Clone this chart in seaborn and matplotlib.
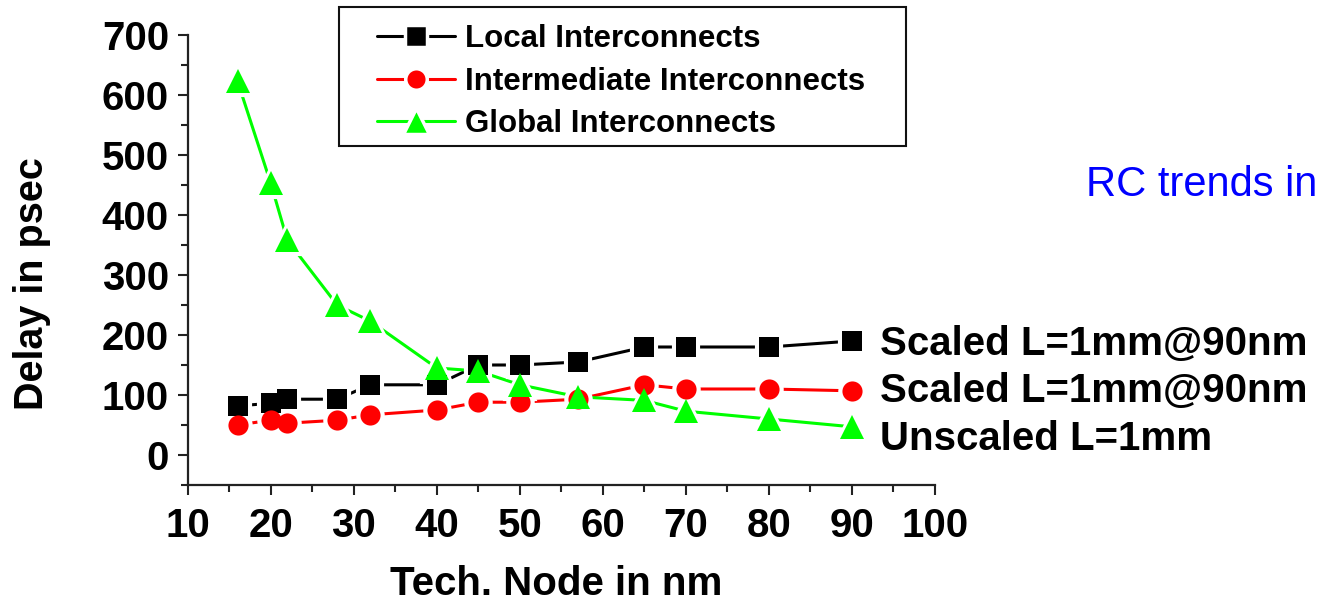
import matplotlib
matplotlib.use("Agg")
import matplotlib.pyplot as plt
from matplotlib.patches import Rectangle
from matplotlib.lines import Line2D
from matplotlib.ticker import MultipleLocator
import seaborn as sns
import pandas as pd

# ---- data ----
tech_node = [16, 20, 22, 28, 32, 40, 45, 50, 57, 65, 70, 80, 90]
local_delay = [82, 86, 93, 93, 117, 117, 150, 150, 155, 180, 180, 180, 190]
intermediate_delay = [50, 58, 53, 58, 67, 75, 88, 88, 93, 117, 110, 110, 107]
global_delay = [623, 453, 358, 250, 223, 145, 140, 117, 97, 91, 73, 60, 47]
series_names = ["Local Interconnects", "Intermediate Interconnects", "Global Interconnects"]
right_labels = ["Scaled L=1mm@90nm", "Scaled L=1mm@90nm", "Unscaled L=1mm"]
side_title = "RC trends in"
x_label = "Tech. Node in nm"
y_label = "Delay in psec"

colors = ["#000000", "#ff0000", "#00ff00"]
markers = ["s", "o", "^"]
msizes = [17.5, 17.5, 20.5]

sns.set_style("ticks")
plt.rcParams["font.family"] = ["Liberation Sans", "DejaVu Sans"]
plt.rcParams["font.weight"] = "bold"
plt.rcParams["text.color"] = "black"
plt.rcParams["axes.labelcolor"] = "black"
plt.rcParams["xtick.color"] = "black"
plt.rcParams["ytick.color"] = "black"

W, H = 1319, 602
fig = plt.figure(figsize=(W / 100, H / 100), dpi=100)
ax = fig.add_axes([187.7 / W, 1 - 485 / H, (935 - 187.7) / W, (485 - 35) / H])

df = pd.DataFrame({"node": tech_node, series_names[0]: local_delay,
                   series_names[1]: intermediate_delay, series_names[2]: global_delay})

# lines
for name, c in zip(series_names, colors):
    sns.lineplot(data=df, x="node", y=name, color=c, linewidth=2.2, ax=ax,
                 legend=False, zorder=2)
# white halos (gap around markers)
for name, m, ms in zip(series_names, markers, msizes):
    sns.lineplot(data=df, x="node", y=name, color="white", linestyle="none",
                 marker=m, markersize=ms, markeredgecolor="white",
                 markeredgewidth=3.0, ax=ax, legend=False, zorder=3)
# colored markers
for name, c, m, ms in zip(series_names, colors, markers, msizes):
    sns.lineplot(data=df, x="node", y=name, color=c, linestyle="none",
                 marker=m, markersize=ms - 3.0, markeredgecolor=c,
                 markeredgewidth=0, ax=ax, legend=False, zorder=4)

ax.set_xlim(10, 100)
ax.set_ylim(-50, 700)
ax.xaxis.set_major_locator(MultipleLocator(10))
ax.xaxis.set_minor_locator(MultipleLocator(5))
ax.yaxis.set_major_locator(MultipleLocator(100))
ax.yaxis.set_minor_locator(MultipleLocator(50))
ax.set_yticks([0, 100, 200, 300, 400, 500, 600, 700])
ax.set_xlabel("")
ax.set_ylabel("")
for s in ["top", "right"]:
    ax.spines[s].set_visible(False)
for s in ["left", "bottom"]:
    ax.spines[s].set_linewidth(1.6)
    ax.spines[s].set_color("#222222")
ax.tick_params(which="major", length=7.5, width=1.5, color="#222222",
               labelsize=29, labelcolor="black", direction="out")
ax.tick_params(which="minor", length=5, width=1.5, color="#222222", direction="out")
ax.tick_params(axis="x", which="major", pad=8)
ax.tick_params(axis="y", which="major", pad=6)
for lab in ax.get_xticklabels() + ax.get_yticklabels():
    lab.set_fontweight("bold")

# axis labels
fig.text(390 / W, 1 - 595 / H, x_label, fontsize=29, fontweight="bold",
         color="black", ha="left", va="baseline")
fig.text(43 / W, 1 - 284 / H, y_label, fontsize=28.5, fontweight="bold",
         color="black", rotation=90, rotation_mode="anchor", ha="center",
         va="baseline")

# legend
handles = [Line2D([], [], color=c, lw=2.2, marker=m, markersize=ms - 2,
                  markerfacecolor=c, markeredgecolor="white", markeredgewidth=2.5)
           for c, m, ms in zip(colors, markers, msizes)]
leg = fig.legend(handles, series_names, loc="upper left",
                 bbox_to_anchor=(377 / W, 1 - 24 / H), frameon=False,
                 fontsize=22.5, handlelength=2.5, handletextpad=0.32,
                 labelspacing=0.4, borderpad=0, borderaxespad=0, numpoints=1)
for t in leg.get_texts():
    t.set_fontweight("bold")
    t.set_color("black")
fig.add_artist(Rectangle((339 / W, 1 - 146 / H), (906 - 339) / W, (146 - 7) / H,
                         transform=fig.transFigure, fill=False, lw=1.5,
                         ec="#111111"))

# right-side annotations
for lab, yb in zip(right_labels, [355, 402, 450]):
    fig.text(880 / W, 1 - yb / H, lab, fontsize=29, fontweight="bold",
             color="black", ha="left", va="baseline")
fig.text(1086 / W, 1 - 196 / H, side_title, fontsize=30, fontweight="normal",
         color="#0000ff", ha="left", va="baseline")

fig.savefig("out.png", dpi=100)
